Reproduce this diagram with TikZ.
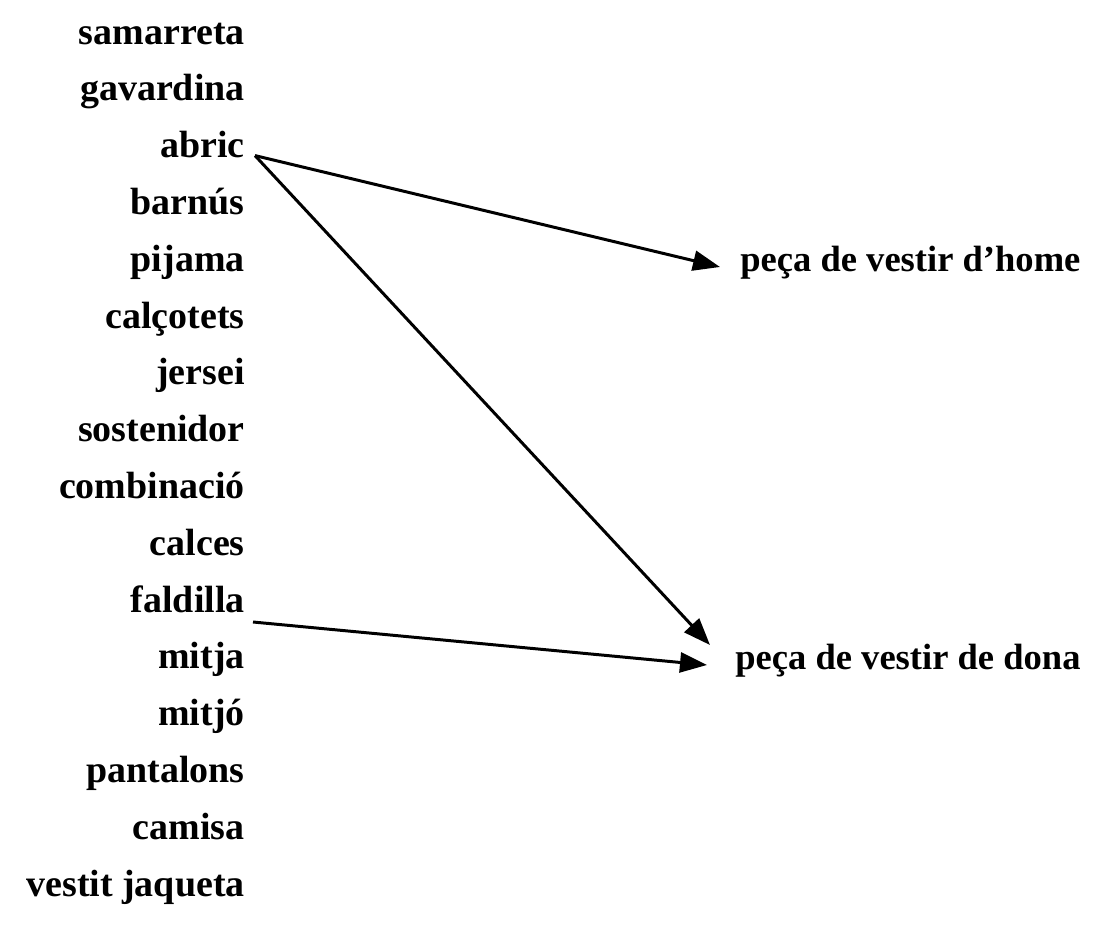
\documentclass[tikz,border=0pt]{standalone}
\usepackage{fontspec}
\setmainfont{Liberation Serif}
\usetikzlibrary{arrows.meta,positioning}

\begin{document}
\begin{tikzpicture}[
  x=0.2mm,y=-0.2mm,
  node distance=11.36mm,
  word/.style={anchor=east,inner sep=0pt,text height=0.7em,text depth=0.24em,font=\fontsize{21.6}{26}\selectfont\bfseries},
  target/.style={word,anchor=west,font=\fontsize{20.8}{25}\selectfont\bfseries},
  arrow/.style={-{Triangle[length=5.4mm,width=4mm]},line width=1.7pt}
]
\useasboundingbox (0,0) rectangle (1099,931);
\node[word] (samarreta) at (245,40) {samarreta};
\node[word,below=of samarreta.east,anchor=east] (gavardina) {gavardina};
\node[word,below=of gavardina.east,anchor=east] (abric) {abric};
\node[word,below=of abric.east,anchor=east] (barnus) {barnús};
\node[word,below=of barnus.east,anchor=east] (pijama) {pijama};
\node[word,below=of pijama.east,anchor=east] (calcotets) {calçotets};
\node[word,below=of calcotets.east,anchor=east] (jersei) {jersei};
\node[word,below=of jersei.east,anchor=east] (sostenidor) {sostenidor};
\node[word,below=of sostenidor.east,anchor=east] (combinacio) {combinació};
\node[word,below=of combinacio.east,anchor=east] (calces) {calces};
\node[word,below=of calces.east,anchor=east] (faldilla) {faldilla};
\node[word,below=of faldilla.east,anchor=east] (mitja) {mitja};
\node[word,below=of mitja.east,anchor=east] (mitjo) {mitjó};
\node[word,below=of mitjo.east,anchor=east] (pantalons) {pantalons};
\node[word,below=of pantalons.east,anchor=east] (camisa) {camisa};
\node[word,below=of camisa.east,anchor=east] (jaqueta) {vestit jaqueta};
\node[target] (home) at (740,267) {peça de vestir d’home};
\node[target] (dona) at (735,665) {peça de vestir de dona};
\coordinate (abricout) at ([shift={(10,2)}]abric.east);
\draw[arrow] (abricout) -- ([xshift=-4mm]home.west);
\draw[arrow] (abricout) -- ([shift={(-25,-20)}]dona.west);
\draw[arrow] ([shift={(8,14)}]faldilla.east) -- ([shift={(-28,0)}]dona.west);
\end{tikzpicture}
\end{document}
